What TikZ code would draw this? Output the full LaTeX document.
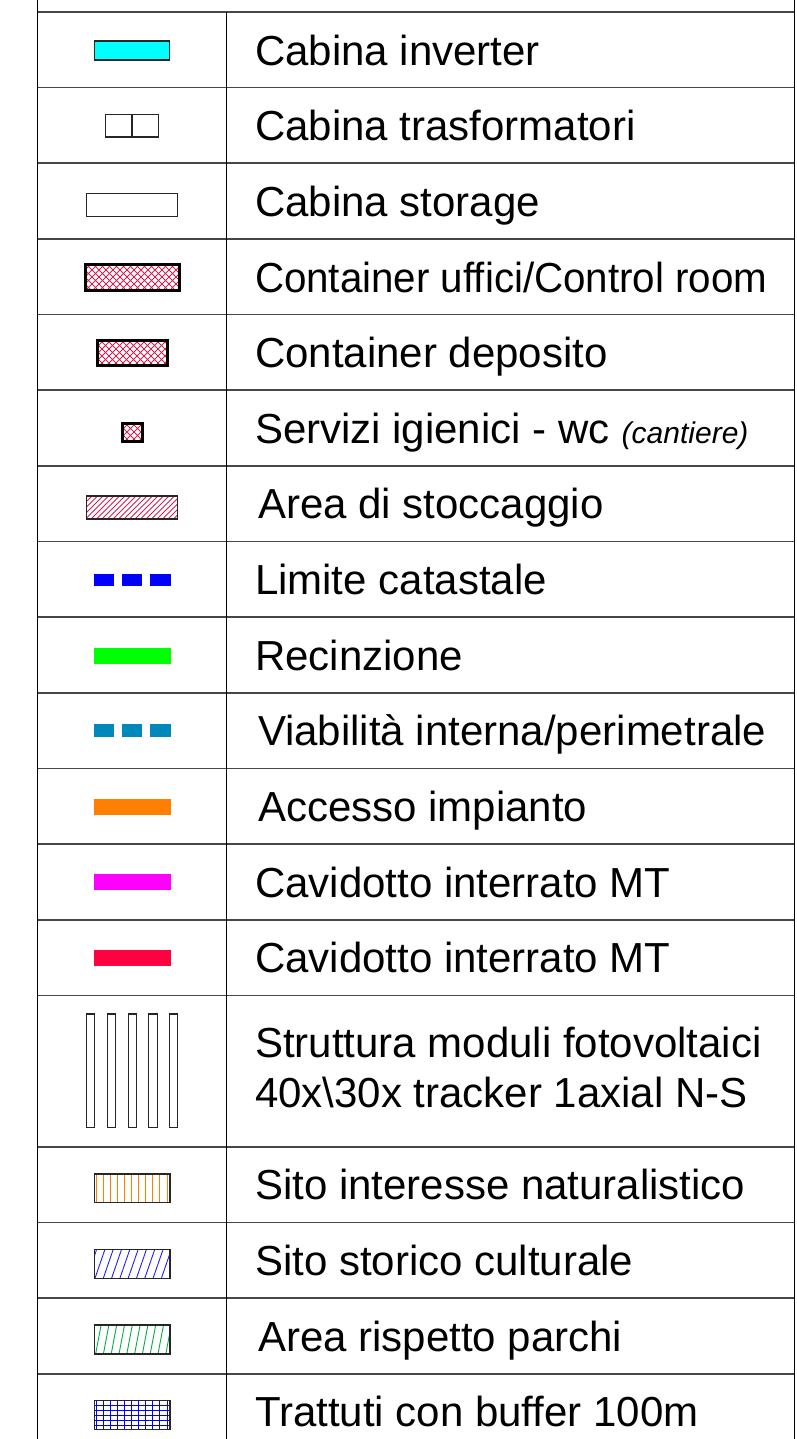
\documentclass[tikz,border=0pt]{standalone}
\usepackage{fontspec}
\setmainfont{Liberation Sans}
\definecolor{hatchred}{HTML}{D02050}
\definecolor{viab}{HTML}{0088BB}
\definecolor{cavred}{HTML}{FF0040}
\definecolor{parkgreen}{HTML}{00B040}
\definecolor{histblue}{HTML}{2020FF}
\definecolor{invcyan}{HTML}{00FFFF}
\definecolor{mtmag}{HTML}{FF00FF}
\definecolor{accorange}{HTML}{FF8000}
\definecolor{fencegreen}{HTML}{00FF00}
\definecolor{limblue}{HTML}{0000FF}
\begin{document}
\begin{tikzpicture}[x=1pt,y=-1pt,
  gridline/.style={line width=1.7pt, draw=black!72},
  vline/.style={line width=1.5pt, draw=black},
  thinbox/.style={draw=black!85, line width=1.3pt},
  thickbox/.style={draw=black, line width=3pt},
  lbl/.style={anchor=base west, inner sep=0pt, outer sep=0pt, font=\fontsize{42}{50}\selectfont},
  hatch/.style={line width=0.9pt},
]
\useasboundingbox (0,0) rectangle (796,1439);
\fill[white] (0,0) rectangle (796,1439);

% ---- table grid ----
\foreach \y in {12,87.65,163.3,238.95,314.6,390.25,465.9,541.55,617.2,692.85,768.5,844.15,919.8,995.45,1146.75,1222.4,1298.05,1373.7}
  \draw[gridline] (37.5,\y) -- (794.5,\y);
\draw[vline] (37.5,0) -- (37.5,1439);
\draw[vline] (226.5,12) -- (226.5,1439);
\draw[vline] (794.5,0) -- (794.5,1439);

% ---- labels ----
\node[lbl] (t1)  at (255,65.5)   {Cabina inverter};
\node[lbl] (t2)  at (255,141)  {Cabina trasformatori};
\node[lbl] (t3)  at (255,216.5)  {Cabina storage};
\node[lbl] (t4)  at (255,292)  {\scalebox{0.96}[1]{Container uffici/Control room}};
\node[lbl] (t5)  at (255,367.5)  {Container deposito};
\node[lbl] (t6)  at (255,443)  {Servizi igienici - wc\hspace{12pt}{\fontsize{30}{34}\selectfont\itshape(cantiere)}};
\node[lbl] (t7)  at (258,518.5)  {Area di stoccaggio};
\node[lbl] (t8)  at (255,594.5)  {Limite catastale};
\node[lbl] (t9)  at (255,670)  {Recinzione};
\node[lbl] (t10) at (258,745.5)  {Viabilità interna/perimetrale};
\node[lbl] (t11) at (258,821)  {Accesso impianto};
\node[lbl] (t12) at (255,897)  {Cavidotto interrato MT};
\node[lbl] (t13) at (255,972.5)  {Cavidotto interrato MT};
\node[lbl] (t14) at (255,1057) {Struttura moduli fotovoltaici};
\node[lbl] (t15) at (255,1107) {40x\textbackslash 30x tracker 1axial N-S};
\node[lbl] (t16) at (255,1199.5) {Sito interesse naturalistico};
\node[lbl] (t17) at (255,1275) {Sito storico culturale};
\node[lbl] (t18) at (258,1351) {Area rispetto parchi};
\node[lbl] (t19) at (255,1426.5) {Trattuti con buffer 100m};

% ---- symbols ----
% Cabina inverter
\draw[thinbox, fill=invcyan] (94.5,41) rectangle (169.5,60);
% Cabina trasformatori
\draw[thinbox] (105.5,114.5) rectangle (158.5,137) (132,114.5) -- (132,137);
% Cabina storage
\draw[thinbox] (86.5,193.5) rectangle (177.5,216.5);
% Container uffici
\begin{scope}
  \clip (85.5,264) rectangle (179,290);
  \foreach \i in {-40,-33,...,200} {
    \draw[hatchred, line width=0.8pt] (\i,290) -- ++(26,-26);
    \draw[hatchred, line width=0.8pt] (\i,264) -- ++(26,26);
  }
\end{scope}
\draw[thickbox] (85.5,264) rectangle (179,290);
% Container deposito
\begin{scope}
  \clip (97,340) rectangle (167,365);
  \foreach \i in {-40,-33,...,200} {
    \draw[hatchred, line width=0.8pt] (\i,365) -- ++(25,-25);
    \draw[hatchred, line width=0.8pt] (\i,340) -- ++(25,25);
  }
\end{scope}
\draw[thickbox] (97,340) rectangle (167,365);
% WC
\begin{scope}
  \clip (122.5,423) rectangle (142,441);
  \foreach \i in {104,111,...,150} {
    \draw[hatchred, line width=0.8pt] (\i,441) -- ++(18,-18);
    \draw[hatchred, line width=0.8pt] (\i,423) -- ++(18,18);
  }
\end{scope}
\draw[thickbox] (122.5,423) rectangle (142,441);
% Area di stoccaggio
\begin{scope}
  \clip (86.5,496) rectangle (177.5,519);
  \foreach \i in {-30,-24.5,...,200}
    \draw[hatchred, line width=0.8pt] (\i,519) -- ++(23,-23);
\end{scope}
\draw[thinbox, line width=1.2pt] (86.5,496) rectangle (177.5,519);
% Limite catastale
\foreach \a in {93.5,121.5,150}
  \fill[limblue] (\a,573.5) rectangle ++(20.7,12.2);
% Recinzione
\fill[fencegreen] (94,647.5) rectangle (170.5,663.5);
% Viabilita
\foreach \a in {93.5,121.5,150}
  \fill[viab] (\a,724) rectangle ++(20.7,13);
% Accesso
\fill[accorange] (94,798.5) rectangle (170.5,814.5);
% Cavidotto MT magenta
\fill[mtmag] (94,874) rectangle (170.5,890);
% Cavidotto MT red
\fill[cavred] (94,949.5) rectangle (170.5,965.5);
% Struttura moduli
\foreach \a in {86.5,107.3,128.1,148.9,169.5}
  \draw[thinbox, line width=1.1pt] (\a,1014) rectangle ++(8.2,113.5);
% Sito interesse naturalistico
\begin{scope}
  \clip (94.5,1174) rectangle (170,1202.5);
  \foreach \i in {96,103.1,...,170}
    \draw[accorange, line width=0.9pt] (\i,1174) -- (\i,1202.5);
\end{scope}
\draw[thinbox, line width=1.2pt] (94.5,1174) rectangle (170,1202.5);
% Sito storico culturale
\begin{scope}
  \clip (94.5,1249.5) rectangle (170,1278.5);
  \foreach \i in {70,78.3,...,180}
    \draw[histblue, line width=0.9pt] (\i,1278.5) -- ++(10,-29);
\end{scope}
\draw[thinbox, line width=1.2pt] (94.5,1249.5) rectangle (170,1278.5);
% Area rispetto parchi
\begin{scope}
  \clip (94.5,1325) rectangle (170,1354);
  \foreach \i in {80,87.8,...,180}
    \draw[parkgreen, line width=0.9pt] (\i,1354) -- ++(5.5,-29);
\end{scope}
\draw[thinbox, line width=1.2pt] (94.5,1325) rectangle (170,1354);
% Trattuti con buffer
\begin{scope}
  \clip (94.5,1400.5) rectangle (170,1429.5);
  \foreach \i in {96,103.1,...,170}
    \draw[limblue, line width=0.9pt] (\i,1400.5) -- (\i,1429.5);
  \foreach \j in {1405.5,1410.5,...,1429}
    \draw[limblue, line width=0.9pt] (94.5,\j) -- (170,\j);
\end{scope}
\draw[thinbox, line width=1.2pt] (94.5,1400.5) rectangle (170,1429.5);
\end{tikzpicture}
\end{document}
